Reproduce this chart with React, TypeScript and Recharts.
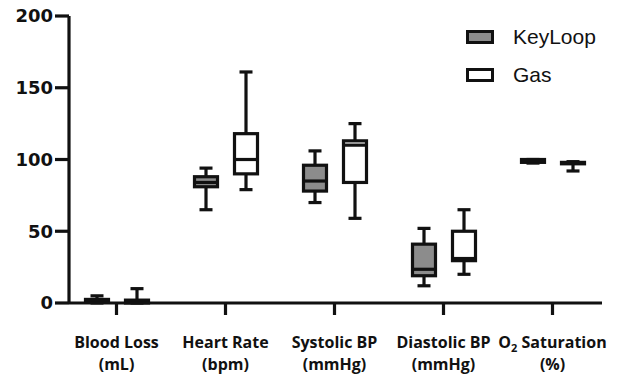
import { Bar, ComposedChart, Legend, XAxis, YAxis } from "recharts"

const categories = ["Blood Loss", "Heart Rate", "Systolic BP", "Diastolic BP", "O₂ Saturation"]
const units = ["(mL)", "(bpm)", "(mmHg)", "(mmHg)", "(%)"]
const yTicks = [0, 50, 100, 150, 200]
const seriesOrder = ["KeyLoop", "Gas"]

// KeyLoop: min, q1, median, q3, max per category
const keyLoopMin = [0, 65, 70, 12, 97.5]
const keyLoopQ1 = [0.5, 81, 78, 19, 98]
const keyLoopMedian = [1, 84, 85, 23.5, 99]
const keyLoopQ3 = [2.5, 88, 96, 41, 100]
const keyLoopMax = [5, 94, 106, 52, 100]

// Gas
const gasMin = [0, 79, 59, 20, 92]
const gasQ1 = [0, 90, 84, 29.5, 97]
const gasMedian = [1, 100, 110, 31, 97.5]
const gasQ3 = [2, 118, 113, 50, 98]
const gasMax = [10, 161, 125, 65, 98.5]

const rows = categories.map((name, i) => ({
  name,
  unit: units[i],
  keyLoop: [keyLoopMin[i], keyLoopMax[i]],
  keyLoopStats: [keyLoopMin[i], keyLoopQ1[i], keyLoopMedian[i], keyLoopQ3[i], keyLoopMax[i]],
  gas: [gasMin[i], gasMax[i]],
  gasStats: [gasMin[i], gasQ1[i], gasMedian[i], gasQ3[i], gasMax[i]],
}))

const ink = "#111"
const lw = 3.2

// the bar is the [min, max] range; the other stats are placed on the same linear scale
function makeBox(statsKey: string) {
  return function BoxShape(props: any) {
    const { x, y, width, height, payload, fill } = props
    const [mn, q1, md, q3, mx] = payload[statsKey]
    const top = Math.min(y, y + height)
    const bottom = Math.max(y, y + height)
    const py = (v: number) => (mx === mn ? bottom : bottom - ((bottom - top) * (v - mn)) / (mx - mn))
    const cx = x + width / 2
    const cap = 6.5
    return (
      <g stroke={ink} strokeWidth={lw}>
        <line x1={cx} x2={cx} y1={py(mx)} y2={py(q3)} />
        <line x1={cx} x2={cx} y1={py(q1)} y2={py(mn)} />
        <line x1={cx - cap} x2={cx + cap} y1={py(mx)} y2={py(mx)} />
        <line x1={cx - cap} x2={cx + cap} y1={py(mn)} y2={py(mn)} />
        <rect x={x + 1.5} width={width - 3} y={py(q3)} height={Math.max(py(q1) - py(q3), 0.5)} fill={fill} />
        <line x1={x + 1.5} x2={x + width - 1.5} y1={py(md)} y2={py(md)} />
      </g>
    )
  }
}

function CategoryTick({ x, y, payload, index }: any) {
  const label: string = payload.value
  const parts = label.split("₂")
  return (
    <g transform={`translate(${x},${y})`}>
      <text textAnchor="middle" fontFamily="'Open Sans'" fontWeight={700} fontSize={16} fill={ink}>
        <tspan x={0} dy={31}>
          {parts.length > 1 ? (
            <>
              {parts[0]}
              <tspan fontSize={11} dy={4}>
                2
              </tspan>
              <tspan dy={-4}>{parts[1]}</tspan>
            </>
          ) : (
            label
          )}
        </tspan>
        <tspan x={0} dy={22}>
          {units[index]}
        </tspan>
      </text>
    </g>
  )
}

function BoxLegend({ payload }: any) {
  const items = [...(payload || [])].sort((a: any, b: any) => seriesOrder.indexOf(a.value) - seriesOrder.indexOf(b.value))
  return (
    <div>
      {items.map((e: any) => (
        <div key={e.value} style={{ display: "flex", alignItems: "center", height: 38 }}>
          <span
            style={{
              width: 22,
              height: 8,
              border: `3px solid ${ink}`,
              background: e.color,
              display: "inline-block",
            }}
          />
          <span style={{ marginLeft: 19, fontFamily: '"Liberation Sans", Arial', fontSize: 21, color: ink }}>
            {e.value}
          </span>
        </div>
      ))}
    </div>
  )
}

export default function App() {
  return (
    <div style={{ position: "absolute", left: 0, top: 0, background: "#fff" }}>
      <ComposedChart width={617} height={376} data={rows} margin={{ top: 16, right: 15, bottom: 43, left: 0 }} barSize={26} barGap={14}>
        <XAxis
          dataKey="name"
          height={30}
          interval={0}
          padding={{ left: -7, right: -5 }}
          tickSize={12}
          tickLine={{ stroke: ink, strokeWidth: lw }}
          axisLine={{ stroke: ink, strokeWidth: lw }}
          tick={<CategoryTick />}
        />
        <YAxis
          width={69}
          domain={[0, 200]}
          ticks={yTicks}
          interval={0}
          tickSize={14}
          tickLine={{ stroke: ink, strokeWidth: lw }}
          axisLine={{ stroke: ink, strokeWidth: lw }}
          tick={{ fill: ink, fontFamily: "DejaVu Sans", fontWeight: 700, fontSize: 18 }}
        />
        <Legend
          layout="vertical"
          align="center"
          verticalAlign="middle"
          wrapperStyle={{ left: 466, top: 18, width: 150 }}
          content={<BoxLegend />}
        />
        <Bar dataKey="keyLoop" name="KeyLoop" fill="#8c8c8c" shape={makeBox("keyLoopStats")} isAnimationActive={false} />
        <Bar dataKey="gas" name="Gas" fill="#ffffff" shape={makeBox("gasStats")} isAnimationActive={false} />
      </ComposedChart>
    </div>
  )
}
